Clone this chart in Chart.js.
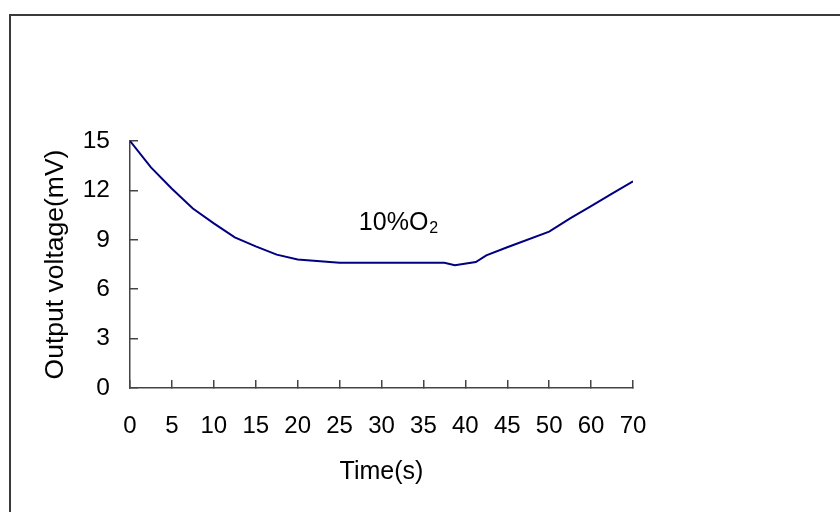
<!DOCTYPE html>
<html>
<head>
<meta charset="utf-8">
<script src="https://cdn.jsdelivr.net/npm/chart.js@4.4.1/dist/chart.umd.min.js"></script>
<style>
  html, body { margin: 0; padding: 0; background: #ffffff; }
  #wrap { position: relative; width: 840px; height: 512px; overflow: hidden; background: #ffffff; }
  #frame { position: absolute; left: 9px; top: 14px; width: 900px; height: 600px;
           border-left: 2px solid #3a3a3a; border-top: 2px solid #3a3a3a; box-sizing: border-box; }
  canvas { position: absolute; left: 0; top: 0; }
</style>
</head>
<body>
<div id="wrap">
  <div id="frame"></div>
  <canvas id="c" width="840" height="512"></canvas>
</div>
<script>
// ---- data ----
const xTickLabels = ['0', '5', '10', '15', '20', '25', '30', '35', '40', '45', '50', '60', '70'];
const yTicks = [0, 3, 6, 9, 12, 15];
const times = [0, 2.5, 5, 7.5, 10, 12.5, 15, 17.5, 20, 25, 30, 35, 37.5, 38.75, 41.25, 42.5, 45, 50, 55, 60, 65, 70];
const voltages = [15, 13.4, 12.1, 10.9, 10.0, 9.15, 8.6, 8.1, 7.8, 7.6, 7.6, 7.6, 7.6, 7.45, 7.65, 8.05, 8.55, 9.5, 10.3, 11.05, 11.8, 12.55];
const annotationText = '10%O';
const annotationSub = '2';
const annotationAt = { t: 27.3, v: 9.6 };

// The time axis is drawn with equally spaced ticks (…45, 50, 60, 70),
// so times beyond 50 s occupy half the spacing per second.
function axisPos(t) { return t <= 50 ? t : 50 + (t - 50) / 2; }

const points = times.map((t, i) => ({ x: axisPos(t), y: voltages[i] }));

const FONT = 'Liberation Sans, Arial, Helvetica, sans-serif';

const annotationPlugin = {
  id: 'o2label',
  afterDatasetsDraw(chart) {
    const ctx = chart.ctx;
    const x = chart.scales.x.getPixelForValue(axisPos(annotationAt.t));
    const y = chart.scales.y.getPixelForValue(annotationAt.v);
    ctx.save();
    ctx.fillStyle = '#000000';
    ctx.textBaseline = 'alphabetic';
    ctx.textAlign = 'left';
    ctx.font = '25px ' + FONT;
    ctx.fillText(annotationText, x, y);
    const w = ctx.measureText(annotationText).width;
    ctx.font = '16px ' + FONT;
    ctx.fillText(annotationSub, x + w + 1, y + 3);
    ctx.restore();
  }
};

new Chart(document.getElementById('c'), {
  type: 'line',
  data: {
    datasets: [{
      data: points,
      borderColor: '#000080',
      borderWidth: 2,
      pointRadius: 0,
      tension: 0,
      fill: false
    }]
  },
  options: {
    responsive: false,
    animation: false,
    devicePixelRatio: 1,
    layout: { padding: { top: 141, right: 207, left: 0, bottom: 0 } },
    plugins: { legend: { display: false }, tooltip: { enabled: false } },
    scales: {
      x: {
        type: 'linear',
        min: 0,
        max: axisPos(70),
        afterBuildTicks(scale) {
          scale.ticks = xTickLabels.map((_, i) => ({ value: i * 5 }));
        },
        afterFit(scale) { scale.height = 124; },
        grid: { drawOnChartArea: false, drawTicks: true, tickLength: -8, color: '#444444', lineWidth: 1.5 },
        border: { display: true, color: '#444444', width: 1.5 },
        ticks: {
          padding: 32,
          color: '#000000',
          font: { family: FONT, size: 24 },
          maxRotation: 0,
          autoSkip: false,
          callback: (v, i) => xTickLabels[i]
        },
        title: {
          display: true,
          text: 'Time(s)',
          color: '#000000',
          font: { family: FONT, size: 25 },
          padding: { top: 0, bottom: 25 }
        }
      },
      y: {
        type: 'linear',
        min: 0,
        max: 15,
        afterBuildTicks(scale) {
          scale.ticks = yTicks.map(v => ({ value: v }));
        },
        afterFit(scale) { scale.width = 130; },
        grid: { drawOnChartArea: false, drawTicks: true, tickLength: -8, color: '#444444', lineWidth: 1.5 },
        border: { display: true, color: '#444444', width: 1.5 },
        ticks: {
          padding: 28,
          color: '#000000',
          font: { family: FONT, size: 24.5 },
          callback: v => String(v)
        },
        title: {
          display: true,
          text: 'Output voltage(mV)',
          color: '#000000',
          font: { family: FONT, size: 26.5 },
          padding: { top: 39.5, bottom: 0 }
        }
      }
    }
  },
  plugins: [annotationPlugin]
});
</script>
</body>
</html>
